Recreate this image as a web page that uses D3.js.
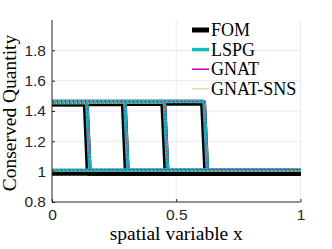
<!DOCTYPE html>
<html>
<head>
<meta charset="utf-8">
<script src="https://cdn.jsdelivr.net/npm/d3@7"></script>
<style>
  body { margin: 0; background: #fff; }
  svg { display: block; }
</style>
</head>
<body>
<svg id="chart" width="332" height="249"></svg>
<script>
// snapshot shock locations (top, bottom of the front)
const fomShockTop = [0.136, 0.289, 0.448, 0.608];
const fomShockBot = [0.148, 0.301, 0.461, 0.621];
const romShockTop = [0.140, 0.293, 0.452, 0.612];
const romShockBot = [0.152, 0.305, 0.465, 0.625];
// state values
const fomLeft = [1.456, 1.458, 1.459, 1.461];
const fomRight = [1.0, 1.0, 1.0, 1.0];
const romLeft = [1.455, 1.457, 1.458, 1.462];
const romRight = [1.01, 1.01, 1.01, 1.01];
// initial snapshot: uniform state
const fomInit = 1.0;
const romInit = 1.01;

const xTicks = [0, 0.5, 1];
const yTicks = [0.8, 1, 1.2, 1.4, 1.6, 1.8];
const legendNames = ["FOM", "LSPG", "GNAT", "GNAT-SNS"];

const width = 332, height = 249;
const svg = d3.select("#chart");

const xRange = d3.scaleLinear().domain([0, 1]).range([52, 300.5]);
const yRange = d3.scaleLinear().domain([0.8, 2.0]).range([202, 20]);

// grid
svg.append("g").selectAll("line").data(yTicks.slice(1))
  .enter().append("line")
    .attr("x1", xRange(0)).attr("x2", xRange(1))
    .attr("y1", d => yRange(d)).attr("y2", d => yRange(d))
    .attr("stroke", "#ebebeb").attr("stroke-width", 1);
svg.append("g").selectAll("line").data(xTicks.slice(1))
  .enter().append("line")
    .attr("x1", d => xRange(d)).attr("x2", d => xRange(d))
    .attr("y1", yRange(2.0)).attr("y2", yRange(0.8))
    .attr("stroke", "#ebebeb").attr("stroke-width", 1);

function profiles(top, bot, left, right, init) {
  const out = [[[0, init], [1, init]]];
  top.forEach((d, i) => {
    out.push([[0, left[i]], [top[i], left[i]], [bot[i], right[i]], [1, right[i]]]);
  });
  return out;
}

const line = d3.line().x(d => xRange(d[0])).y(d => yRange(d[1]));

const series = [
  { name: "FOM", color: "#000000", w: 6, top: fomShockTop, bot: fomShockBot, left: fomLeft, right: fomRight, init: fomInit, dash: null, dy: 1 },
  { name: "LSPG", color: "#12bdbd", w: 3.5, top: romShockTop, bot: romShockBot, left: romLeft, right: romRight, init: romInit, dash: null, dy: 0 },
  { name: "GNAT", color: "#bf00bf", w: 1.5, top: romShockTop, bot: romShockBot, left: romLeft, right: romRight, init: romInit, dash: "2,2", dy: 0 },
  { name: "GNAT-SNS", color: "#e3a04a", w: 1, top: romShockTop, bot: romShockBot, left: romLeft, right: romRight, init: romInit, dash: "1,3", dy: 0.5 }
];

const plot = svg.append("g");
series.forEach(s => {
  plot.append("g")
    .attr("transform", `translate(0, ${s.dy})`)
    .selectAll("path")
    .data(profiles(s.top, s.bot, s.left, s.right, s.init))
    .enter().append("path")
      .attr("d", line)
      .attr("fill", "none")
      .attr("stroke", s.color)
      .attr("stroke-width", s.w)
      .attr("stroke-dasharray", s.dash)
      .attr("stroke-linejoin", "round");
});

// axes
const xAxis = svg.append("g")
  .attr("transform", `translate(0, ${yRange(0.8)})`)
  .call(d3.axisBottom(xRange).tickValues(xTicks).tickFormat(d3.format("")).tickSize(-3).tickPadding(7));
const yAxis = svg.append("g")
  .attr("transform", `translate(${xRange(0)}, 0)`)
  .call(d3.axisLeft(yRange).tickValues(yTicks).tickFormat(d3.format("")).tickSize(-3).tickPadding(6));
yAxis.select(".domain").attr("d", `M-0,${yRange(2.0)}V${yRange(0.8)}`);
xAxis.select(".domain").attr("d", `M${xRange(0)},0H${xRange(1)}`);
[xAxis, yAxis].forEach(a => {
  a.selectAll(".domain, line").attr("stroke", "#262626");
  a.selectAll("text").attr("font-family", "Liberation Sans, Arial, sans-serif")
    .attr("font-size", 15.5).attr("fill", "#262626");
});

// axis labels
svg.append("text")
  .attr("x", xRange(0.5)).attr("y", 240)
  .attr("text-anchor", "middle")
  .attr("font-family", "Liberation Serif, serif").attr("font-size", 19.5)
  .text("spatial variable x");
svg.append("text")
  .attr("transform", `translate(16, 113) rotate(-90)`)
  .attr("text-anchor", "middle")
  .attr("font-family", "Liberation Serif, serif").attr("font-size", 19.5)
  .text("Conserved Quantity");

// legend
const legendColors = ["#000000", "#12bdbd", "#bf00bf", "#e0e0a0"];
const legendWidths = [5, 3.5, 1.5, 1.5];
const legend = svg.append("g");
legendNames.forEach((n, i) => {
  const y = 30 + i * 19.6;
  legend.append("line")
    .attr("x1", 192).attr("x2", 209).attr("y1", y).attr("y2", y)
    .attr("stroke", legendColors[i]).attr("stroke-width", legendWidths[i]);
  legend.append("text")
    .attr("x", 211).attr("y", y + 6)
    .attr("font-family", "Liberation Serif, serif").attr("font-size", 18)
    .text(n);
});
</script>
</body>
</html>
